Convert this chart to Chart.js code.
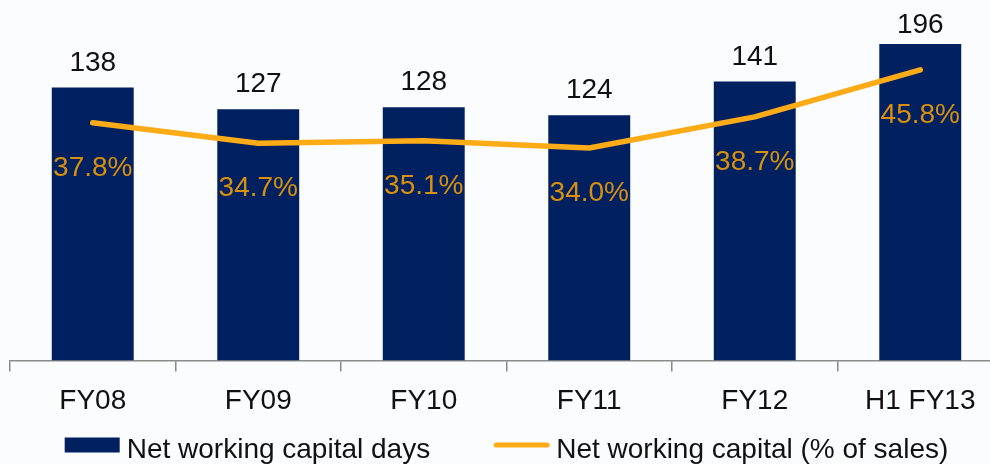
<!DOCTYPE html>
<html>
<head>
<meta charset="utf-8">
<script src="https://cdn.jsdelivr.net/npm/chart.js@4/dist/chart.umd.min.js"></script>
<style>
  html, body { margin: 0; padding: 0; background: #fbfcfd; overflow: hidden; }
  #wrap { position: relative; width: 1013px; height: 464px; }
</style>
</head>
<body>
<div id="wrap"><canvas id="chart"></canvas></div>
<script>
const categories = ["FY08", "FY09", "FY10", "FY11", "FY12", "H1 FY13"];
const nwcDays = [138, 127, 128, 124, 141, 196];
const nwcPctSales = [37.8, 34.7, 35.1, 34.0, 38.7, 45.8];
const seriesNames = ["Net working capital days", "Net working capital (% of sales)"];

const BAR_COLOR = "#00205f";
const LINE_COLOR = "#fdab17";
const PCT_COLOR = "#d8900e";
const FONT = "'Liberation Sans', Arial, sans-serif";

// value labels above bars + percent labels under the line points
const valueLabels = {
  id: "valueLabels",
  afterDatasetsDraw(chart) {
    const { ctx, chartArea } = chart;
    const pts = chart.getDatasetMeta(0).data;
    const bars = chart.getDatasetMeta(1).data;
    ctx.save();
    ctx.font = "28px " + FONT;
    ctx.textAlign = "center";
    ctx.textBaseline = "alphabetic";
    ctx.fillStyle = "#111";
    bars.forEach((bar, i) => {
      const y = bar.y < chartArea.top ? chartArea.top - 11 : bar.y - 17;
      ctx.fillText(String(nwcDays[i]), bar.x, y);
    });
    ctx.fillStyle = PCT_COLOR;
    pts.forEach((pt, i) => {
      ctx.fillText(nwcPctSales[i].toFixed(1) + "%", pt.x, pt.y + 53);
    });
    ctx.restore();
  },
};

// legend drawn by hand so the spacing follows the original slide
const bottomLegend = {
  id: "bottomLegend",
  afterDraw(chart) {
    const { ctx, chartArea } = chart;
    ctx.save();
    ctx.font = "28px " + FONT;
    ctx.textBaseline = "alphabetic";
    const swatchW = 55, gapText = 7, gapItem = 64;
    const w0 = ctx.measureText(seriesNames[0]).width;
    const w1 = ctx.measureText(seriesNames[1]).width;
    const total = swatchW + gapText + w0 + gapItem + swatchW + gapText + w1;
    let x = (chartArea.left + chartArea.right) / 2 - total / 2;
    const base = chart.height - 6;
    const mid = base - 13;

    ctx.fillStyle = BAR_COLOR;
    ctx.fillRect(x, mid - 7.5, swatchW, 15);
    x += swatchW + gapText;
    ctx.fillStyle = "#111";
    ctx.fillText(seriesNames[0], x, base);
    x += w0 + gapItem;

    ctx.strokeStyle = LINE_COLOR;
    ctx.lineWidth = 5;
    ctx.lineCap = "round";
    ctx.beginPath();
    ctx.moveTo(x + 2, mid);
    ctx.lineTo(x + swatchW - 2, mid);
    ctx.stroke();
    x += swatchW + gapText;
    ctx.fillText(seriesNames[1], x, base);
    ctx.restore();
  },
};

new Chart(document.getElementById("chart"), {
  type: "bar",
  data: {
    labels: categories,
    datasets: [
      {
        type: "line",
        label: seriesNames[1],
        data: nwcPctSales,
        yAxisID: "y1",
        borderColor: LINE_COLOR,
        borderWidth: 5.5,
        borderCapStyle: "round",
        borderJoinStyle: "round",
        pointRadius: 0,
        tension: 0,
        order: 0,
      },
      {
        label: seriesNames[0],
        data: nwcDays,
        yAxisID: "y",
        backgroundColor: BAR_COLOR,
        categoryPercentage: 1,
        barPercentage: 0.495,
        order: 1,
      },
    ],
  },
  options: {
    responsive: true,
    maintainAspectRatio: false,
    animation: false,
    layout: { padding: { top: 44, left: 10, right: 10, bottom: 33 } },
    plugins: {
      legend: { display: false },
      tooltip: { enabled: false },
    },
    scales: {
      x: {
        offset: true,
        border: { display: true, color: "#8a8a8a", width: 1.5 },
        grid: { offset: true, drawOnChartArea: false, drawTicks: true, tickLength: 11, color: "#8a8a8a", lineWidth: 1.5 },
        ticks: { color: "#111", padding: 13, font: { family: FONT, size: 28 } },
      },
      y: { display: false, min: 0, max: 160 },
      y1: { display: false, min: 1.93, max: 49.7 },
    },
  },
  plugins: [valueLabels, bottomLegend],
});
</script>
</body>
</html>
